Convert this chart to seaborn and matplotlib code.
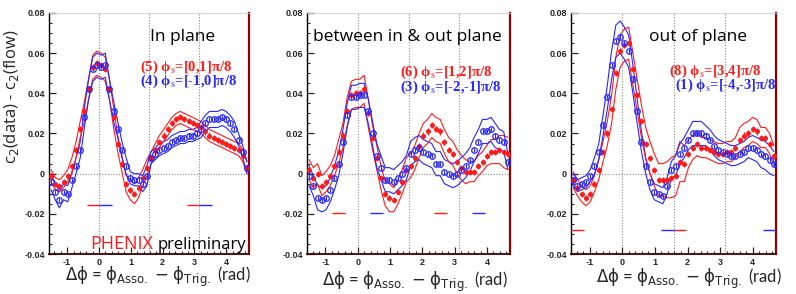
import numpy as np
import pandas as pd
import matplotlib
matplotlib.use('Agg')
import matplotlib.pyplot as plt
import seaborn as sns
from matplotlib.ticker import MultipleLocator, FuncFormatter

# 48 bins in dphi from -pi/2 to 3pi/2
nbins = 48
dphi = -np.pi / 2 + (np.arange(nbins) + 0.5) * np.pi / 24

# ---- in plane: (5) red, (4) blue
p1_red = [-0.001, -0.005, -0.006, -0.004, -0.001, 0.004, 0.012, 0.022, 0.031, 0.042, 0.053, 0.055,
          0.054, 0.052, 0.042, 0.028, 0.015, 0.005, -0.005, -0.008, -0.010, -0.007, -0.002, 0.003,
          0.008, 0.012, 0.016, 0.019, 0.022, 0.025, 0.027, 0.028, 0.027, 0.026, 0.025, 0.024,
          0.023, 0.021, 0.019, 0.018, 0.017, 0.016, 0.015, 0.014, 0.013, 0.012, 0.009, 0.003]
p1_blue = [-0.004, -0.009, -0.013, -0.009, -0.010, -0.003, 0.004, 0.012, 0.028, 0.042, 0.052, 0.054,
           0.053, 0.054, 0.042, 0.031, 0.022, 0.012, 0.004, -0.002, -0.003, -0.003, -0.005, -0.001,
           0.008, 0.010, 0.012, 0.013, 0.014, 0.016, 0.017, 0.018, 0.018, 0.019, 0.019, 0.020,
           0.022, 0.025, 0.027, 0.027, 0.027, 0.028, 0.027, 0.025, 0.022, 0.017, 0.011, 0.003]
p1_red_sys = [0.003, 0.003, 0.003, 0.003, 0.003, 0.004, 0.004, 0.004, 0.005, 0.005, 0.006, 0.006,
              0.006, 0.006, 0.005, 0.005, 0.004, 0.004, 0.004, 0.005, 0.005, 0.005, 0.004, 0.004,
              0.003, 0.003, 0.003, 0.003, 0.003, 0.003, 0.003, 0.003, 0.003, 0.003, 0.003, 0.003,
              0.003, 0.003, 0.003, 0.003, 0.003, 0.003, 0.003, 0.003, 0.003, 0.003, 0.003, 0.003]
p1_blue_sys = [0.004, 0.004, 0.004, 0.004, 0.004, 0.004, 0.004, 0.004, 0.005, 0.005, 0.006, 0.006,
               0.006, 0.006, 0.005, 0.005, 0.004, 0.004, 0.004, 0.003, 0.003, 0.003, 0.004, 0.005,
               0.003, 0.003, 0.003, 0.003, 0.003, 0.003, 0.003, 0.003, 0.003, 0.003, 0.003, 0.003,
               0.004, 0.004, 0.004, 0.004, 0.004, 0.004, 0.004, 0.004, 0.004, 0.003, 0.003, 0.003]

# ---- between in & out plane: (6) red, (3) blue
p2_red = [0.002, -0.002, 0.000, -0.006, -0.004, -0.001, 0.004, 0.011, 0.019, 0.031, 0.039, 0.040,
          0.040, 0.042, 0.030, 0.018, 0.008, -0.002, -0.010, -0.012, -0.013, -0.009, -0.004, 0.002,
          0.004, 0.008, 0.014, 0.019, 0.021, 0.024, 0.022, 0.021, 0.016, 0.012, 0.010, 0.006,
          0.003, 0.001, 0.001, 0.001, 0.004, 0.006, 0.009, 0.011, 0.011, 0.012, 0.011, 0.010]
p2_blue = [-0.001, -0.006, -0.012, -0.013, -0.012, -0.008, -0.002, 0.005, 0.016, 0.029, 0.038, 0.038,
           0.039, 0.039, 0.031, 0.020, 0.009, 0.003, -0.003, -0.003, -0.004, -0.002, 0.000, 0.003,
           0.010, 0.012, 0.013, 0.011, 0.010, 0.009, 0.005, 0.005, 0.001, 0.000, -0.001, 0.000,
           0.002, 0.004, 0.007, 0.012, 0.016, 0.021, 0.021, 0.022, 0.019, 0.017, 0.016, 0.006]
p2_red_sys = [0.005, 0.005, 0.005, 0.005, 0.005, 0.005, 0.005, 0.006, 0.006, 0.007, 0.007, 0.007,
              0.007, 0.007, 0.007, 0.006, 0.006, 0.006, 0.006, 0.007, 0.006, 0.006, 0.006, 0.006,
              0.006, 0.006, 0.006, 0.006, 0.006, 0.006, 0.006, 0.006, 0.006, 0.006, 0.006, 0.006,
              0.006, 0.006, 0.005, 0.005, 0.005, 0.005, 0.005, 0.006, 0.006, 0.007, 0.008, 0.008]
p2_blue_sys = [0.005, 0.005, 0.006, 0.006, 0.006, 0.006, 0.006, 0.006, 0.006, 0.006, 0.006, 0.006,
               0.006, 0.006, 0.006, 0.006, 0.006, 0.006, 0.006, 0.006, 0.006, 0.006, 0.006, 0.006,
               0.006, 0.006, 0.006, 0.006, 0.006, 0.006, 0.006, 0.006, 0.006, 0.006, 0.006, 0.006,
               0.006, 0.006, 0.006, 0.006, 0.006, 0.006, 0.006, 0.006, 0.006, 0.005, 0.005, 0.004]

# ---- out of plane: (8) red, (1) blue
p3_red = [-0.003, -0.007, -0.010, -0.012, -0.010, -0.005, 0.002, 0.011, 0.020, 0.032, 0.050, 0.061,
          0.064, 0.065, 0.052, 0.039, 0.026, 0.015, 0.008, 0.002, -0.003, -0.003, -0.003, -0.002,
          -0.001, 0.006, 0.005, 0.010, 0.013, 0.015, 0.013, 0.013, 0.012, 0.011, 0.010, 0.010,
          0.011, 0.011, 0.013, 0.017, 0.019, 0.020, 0.022, 0.021, 0.018, 0.018, 0.015, 0.009]
p3_blue = [-0.003, -0.006, -0.005, -0.004, -0.001, 0.004, 0.011, 0.024, 0.038, 0.054, 0.066, 0.068,
           0.065, 0.061, 0.047, 0.031, 0.016, 0.004, -0.004, -0.009, -0.010, -0.011, -0.006, 0.002,
           0.004, 0.010, 0.013, 0.017, 0.020, 0.020, 0.020, 0.019, 0.017, 0.014, 0.012, 0.011,
           0.010, 0.009, 0.009, 0.010, 0.011, 0.013, 0.013, 0.012, 0.010, 0.009, 0.007, 0.005]
p3_red_sys = [0.004, 0.004, 0.004, 0.004, 0.004, 0.004, 0.005, 0.005, 0.006, 0.007, 0.008, 0.008,
              0.008, 0.008, 0.008, 0.008, 0.008, 0.008, 0.008, 0.008, 0.008, 0.008, 0.009, 0.010,
              0.010, 0.010, 0.009, 0.007, 0.006, 0.006, 0.005, 0.005, 0.005, 0.005, 0.005, 0.005,
              0.005, 0.005, 0.005, 0.006, 0.006, 0.006, 0.006, 0.006, 0.005, 0.005, 0.005, 0.005]
p3_blue_sys = [0.003, 0.003, 0.003, 0.003, 0.003, 0.004, 0.004, 0.005, 0.006, 0.007, 0.008, 0.008,
               0.008, 0.008, 0.007, 0.006, 0.005, 0.004, 0.004, 0.004, 0.004, 0.004, 0.004, 0.004,
               0.005, 0.005, 0.005, 0.005, 0.006, 0.006, 0.006, 0.005, 0.005, 0.005, 0.005, 0.005,
               0.005, 0.005, 0.005, 0.005, 0.005, 0.005, 0.006, 0.006, 0.007, 0.007, 0.007, 0.006]

stat_red = 0.0015
stat_blue = 0.001

# reaction plane windows, in units of pi/8 (red, blue)
p1_win_red = [(-1, 0), (7, 8)]
p1_win_blue = [(0, 1), (8, 9)]
p2_win_red = [(-2, -1), (6, 7)]
p2_win_blue = [(1, 2), (9, 10)]
p3_win_red = [(-4, -3), (4, 5)]
p3_win_blue = [(3, 4), (11, 12)]
win_y = [-0.0157, -0.0198, -0.028]

titles = ['In plane', 'between in & out plane', 'out of plane']
leg_red = ['(5) ϕ$_{\\rm s}$=[0,1]π/8', '(6) ϕ$_{\\rm s}$=[1,2]π/8', '(8) ϕ$_{\\rm s}$=[3,4]π/8']
leg_blue = ['(4) ϕ$_{\\rm s}$=[-1,0]π/8', '(3) ϕ$_{\\rm s}$=[-2,-1]π/8', '(1) ϕ$_{\\rm s}$=[-4,-3]π/8']

sns.set_style('ticks')
plt.rcParams['font.family'] = ['Open Sans', 'DejaVu Sans']

RED = '#ff1a1a'
BLUE = '#2626ff'

W, H = 796, 294
fig = plt.figure(figsize=(W / 100, H / 100), dpi=100)
fig.patch.set_facecolor('white')

ax_px = [(49, 249), (307, 510), (571, 776)]
top_px, bot_px = 13, 254

panels = [
    (p1_red, p1_blue, p1_red_sys, p1_blue_sys, p1_win_red, p1_win_blue),
    (p2_red, p2_blue, p2_red_sys, p2_blue_sys, p2_win_red, p2_win_blue),
    (p3_red, p3_blue, p3_red_sys, p3_blue_sys, p3_win_red, p3_win_blue),
]

axes = []
for i, (red, blue, rsys, bsys, wred, wblue) in enumerate(panels):
    l, r = ax_px[i]
    ax = fig.add_axes([l / W, 1 - bot_px / H, (r - l) / W, (bot_px - top_px) / H])
    axes.append(ax)

    df = pd.DataFrame({'dphi': np.concatenate([dphi, dphi]),
                       'val': np.concatenate([red, blue]),
                       'sys': np.concatenate([rsys, bsys]),
                       'set': ['red'] * nbins + ['blue'] * nbins})
    df['hi'] = df['val'] + df['sys']
    df['lo'] = df['val'] - df['sys']

    # reference lines
    for xv in [0, np.pi / 2, np.pi]:
        ax.axvline(xv, color='#888888', ls=(0, (1, 1.5)), lw=0.8, zorder=0)
    ax.axhline(0, color='#888888', ls=(0, (1, 1.5)), lw=0.8, zorder=0)

    # systematic bands
    pal = {'red': RED, 'blue': BLUE}
    for col in ['hi', 'lo']:
        sns.lineplot(data=df, x='dphi', y=col, hue='set', palette=pal, ax=ax,
                     estimator=None, sort=False, lw=0.8, legend=False)

    d_r = df[df['set'] == 'red']
    d_b = df[df['set'] == 'blue']
    ax.errorbar(d_r['dphi'], d_r['val'], yerr=stat_red, fmt='o', ms=2.6, color=RED,
                mec=RED, elinewidth=0.9, capsize=0, zorder=4)
    ax.errorbar(d_b['dphi'], d_b['val'], yerr=stat_blue, fmt='o', ms=4, color=BLUE,
                mfc='none', mec=BLUE, mew=0.9, elinewidth=0.8, capsize=0, zorder=5)

    # window marks
    for a, b in wred:
        ax.hlines(win_y[i], a * np.pi / 8, b * np.pi / 8, color=RED, lw=1.0, zorder=3)
    for a, b in wblue:
        ax.hlines(win_y[i], a * np.pi / 8, b * np.pi / 8, color=BLUE, lw=1.0, zorder=3)

    ax.set_xlim(-np.pi / 2, 3 * np.pi / 2)
    ax.set_ylim(-0.04, 0.08)
    ax.set_xlabel('')
    ax.set_ylabel('')
    ax.xaxis.set_major_locator(MultipleLocator(1))
    ax.xaxis.set_minor_locator(MultipleLocator(0.2))
    ax.yaxis.set_major_locator(MultipleLocator(0.02))
    ax.yaxis.set_minor_locator(MultipleLocator(0.005))
    ax.yaxis.set_major_formatter(FuncFormatter(lambda v, p: '0' if abs(v) < 1e-9 else f'{v:.2f}'))
    ax.xaxis.set_major_formatter(FuncFormatter(lambda v, p: f'{v:.0f}'))
    ax.tick_params(which='both', direction='in', top=False, right=False)
    ax.tick_params(which='major', length=5, width=0.9, labelsize=6.5, pad=3)
    ax.tick_params(which='minor', length=2.5, width=0.8)
    for lab in ax.get_xticklabels() + ax.get_yticklabels():
        lab.set_fontfamily(['Liberation Sans', 'DejaVu Sans'])
        lab.set_fontweight('bold')
    ax.spines['left'].set_color('black')
    ax.spines['left'].set_linewidth(1.0)
    ax.spines['bottom'].set_color('#3a0000')
    ax.spines['bottom'].set_linewidth(1.3)
    ax.spines['right'].set_color('#8b0000')
    ax.spines['right'].set_linewidth(1.6)
    ax.spines['top'].set_color('#cccccc')
    ax.spines['top'].set_linewidth(0.6)
    ax.set_facecolor('white')

# panel titles
title_pos = [(150, 37), (313, 37), (649, 37)]
for t, (x, y) in zip(titles, title_pos):
    fig.text(x / W, 1 - y / H, t, fontsize=12.5, ha='left', va='center', color='black')

# legend lines
leg_pos = [((140, 67), (140, 81)), ((400, 72), (400, 87)), ((669, 71), (675, 85))]
serif = ['Liberation Serif', 'DejaVu Serif']
for i, ((xr, yr), (xb, yb)) in enumerate(leg_pos):
    fig.text(xr / W, 1 - yr / H, leg_red[i], fontsize=10.5, fontweight='bold', color=RED,
             family=serif, math_fontfamily='stix', ha='left', va='center')
    fig.text(xb / W, 1 - yb / H, leg_blue[i], fontsize=10.5, fontweight='bold', color=BLUE,
             family=serif, math_fontfamily='stix', ha='left', va='center')

# x labels
xlab = r'$\mathrm{\Delta\phi}$ = $\mathrm{\phi_{Asso.}}$ $-$ $\mathrm{\phi_{Trig.}}$ (rad)'
xlab_pos = [(158, 277), (415, 282), (689, 279)]
for x, y in xlab_pos:
    fig.text(x / W, 1 - y / H, xlab, fontsize=12, ha='center', va='center',
             family=['Lato', 'DejaVu Sans'], math_fontfamily='dejavusans')

# y label
fig.text(12 / W, 1 - 97 / H, 'c$_2$(data) - c$_2$(flow)', fontsize=12, rotation=90,
         ha='center', va='center', math_fontfamily='dejavusans')

# PHENIX preliminary
fig.text(90 / W, 1 - 244 / H, 'PHENIX', fontsize=13, color=RED, ha='left', va='center')
fig.text(158 / W, 1 - 245 / H, 'preliminary', fontsize=12, color='black', ha='left', va='center')

fig.savefig('out.png', dpi=100)
